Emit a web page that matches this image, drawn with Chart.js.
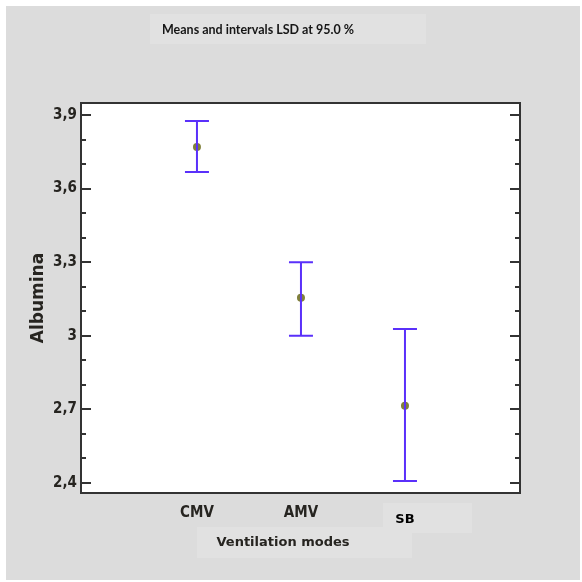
<!DOCTYPE html>
<html>
<head>
<meta charset="utf-8">
<script src="https://cdn.jsdelivr.net/npm/chart.js@4.4.1/dist/chart.umd.min.js"></script>
<style>
  html, body { margin: 0; padding: 0; background: #ffffff; }
  #wrap { width: 582px; height: 582px; }
</style>
</head>
<body>
<div id="wrap"><canvas id="chart" width="582" height="582"></canvas></div>
<script>
// Group means with LSD intervals (95 %)
var categories = ['CMV', 'AMV', 'SB'];
var means      = [3.77, 3.155, 2.715];
var lower      = [3.668, 3.0, 2.408];
var upper      = [3.876, 3.30, 3.028];

// Y axis ticks: labelled majors and unlabelled minors
var yMajor  = [2.4, 2.7, 3.0, 3.3, 3.6, 3.9];
var yLabels = ['2,4', '2,7', '3', '3,3', '3,6', '3,9'];
var yMinor  = [2.5, 2.6, 2.8, 2.9, 3.1, 3.2, 3.4, 3.5, 3.7, 3.8];

var textDark = '#262420';
var barColor = '#5a30fa';
var narrowFont = { family: '"DejaVu Sans", sans-serif', size: 15, weight: 'bold condensed' };

// grey page, lighter text patches and the free text above / below the plot
var backdrop = {
	id: 'backdrop',
	beforeDraw: function( chart ){
		var ctx = chart.ctx,
		a       = chart.chartArea;
		ctx.save();
		ctx.fillStyle = '#ffffff';
		ctx.fillRect(0, 0, chart.width, chart.height);
		ctx.fillStyle = '#dcdcdc';
		ctx.fillRect(6, 6, chart.width - 8, chart.height - 8);
		ctx.fillStyle = '#e1e1e1';
		ctx.fillRect(150, 14, 276, 30);
		ctx.fillRect(383, 503, 89, 30);
		ctx.fillRect(197, 527, 215, 31);
		ctx.fillStyle = '#ffffff';
		ctx.fillRect(a.left, a.top, a.right - a.left, a.bottom - a.top);
		ctx.restore();
	},
	afterDraw: function( chart ){
		var ctx = chart.ctx;
		ctx.save();
		ctx.fillStyle = '#161616';
		ctx.textAlign = 'center';
		ctx.textBaseline = 'middle';
		ctx.font = 'bold 12.5px Lato, "Open Sans", sans-serif';
		ctx.fillText('Means and intervals LSD at 95.0 %', 258, 30);
		ctx.fillStyle = textDark;
		ctx.font = 'bold 13px "DejaVu Sans", sans-serif';
		ctx.fillText('Ventilation modes', 283, 543);
		ctx.restore();
	}
};

// error bars with caps, drawn over the mean markers
var errorBars = {
	id: 'errorBars',
	afterDatasetsDraw: function( chart ){
		var ctx = chart.ctx,
		xs      = chart.scales.x,
		ys      = chart.scales.y;
		ctx.save();
		ctx.strokeStyle = barColor;
		ctx.lineWidth = 2;
		means.forEach(function( m, i ){
			var x  = xs.getPixelForValue(i + 1),
			yTop   = ys.getPixelForValue(upper[i]),
			yBot   = ys.getPixelForValue(lower[i]);
			ctx.beginPath();
			ctx.moveTo(x, yTop);
			ctx.lineTo(x, yBot);
			ctx.moveTo(x - 12, yTop);
			ctx.lineTo(x + 12, yTop);
			ctx.moveTo(x - 12, yBot);
			ctx.lineTo(x + 12, yBot);
			ctx.stroke();
		});
		ctx.restore();
	}
};

// box frame and inward tick marks on both sides
var frame = {
	id: 'frame',
	afterDraw: function( chart ){
		var ctx = chart.ctx,
		a       = chart.chartArea,
		ys      = chart.scales.y;
		ctx.save();
		ctx.strokeStyle = '#333333';
		ctx.lineWidth = 2;
		ctx.strokeRect(a.left, a.top, a.right - a.left, a.bottom - a.top);
		function tick( v, len ){
			var y = Math.round(ys.getPixelForValue(v));
			ctx.beginPath();
			ctx.moveTo(a.left, y);
			ctx.lineTo(a.left + len, y);
			ctx.moveTo(a.right, y);
			ctx.lineTo(a.right - len, y);
			ctx.stroke();
		}
		yMajor.forEach(function( v ){ tick(v, 10); });
		yMinor.forEach(function( v ){ tick(v, 5); });
		ctx.restore();
	}
};

new Chart(document.getElementById('chart').getContext('2d'), {
	type: 'scatter',
	data: {
		datasets: [{
			data: means.map(function( m, i ){ return { x: i + 1, y: m }; }),
			pointRadius: 4,
			pointBackgroundColor: '#80803a',
			pointBorderWidth: 0,
			pointHoverRadius: 4
		}]
	},
	options: {
		responsive: false,
		animation: false,
		events: [],
		layout: { padding: { top: 103, right: 62, left: 0, bottom: 0 } },
		plugins: {
			legend: { display: false },
			tooltip: { enabled: false }
		},
		scales: {
			x: {
				type: 'linear',
				min: -0.115,
				max: 4.106,
				border: { display: false },
				grid: { display: false, drawTicks: false },
				afterBuildTicks: function( s ){
					s.ticks = categories.map(function( c, i ){ return { value: i + 1 }; });
				},
				afterFit: function( s ){ s.height = 89; },
				ticks: {
					padding: 11,
					maxRotation: 0,
					autoSkip: false,
					color: function( c ){ return c.index === 2 ? '#000000' : textDark; },
					font: function( c ){
						// SB sits a little lower than the other two labels
						return c.index === 2
							? { family: '"DejaVu Sans", sans-serif', size: 13, weight: 'bold', lineHeight: 2.4 }
							: narrowFont;
					},
					callback: function( v ){ return categories[v - 1]; }
				}
			},
			y: {
				min: 2.359,
				max: 3.949,
				border: { display: false },
				grid: { display: false, drawTicks: false },
				afterBuildTicks: function( s ){
					s.ticks = yMajor.map(function( v ){ return { value: v }; });
				},
				afterFit: function( s ){ s.width = 81; },
				ticks: {
					padding: 4,
					color: textDark,
					font: narrowFont,
					callback: function( v ){ return yLabels[yMajor.indexOf(v)]; }
				},
				title: {
					display: true,
					text: 'Albumina',
					color: textDark,
					padding: { top: 28, bottom: 0 },
					font: { family: '"DejaVu Sans", sans-serif', size: 17, weight: 'bold' }
				}
			}
		}
	},
	plugins: [backdrop, errorBars, frame]
});
</script>
</body>
</html>
